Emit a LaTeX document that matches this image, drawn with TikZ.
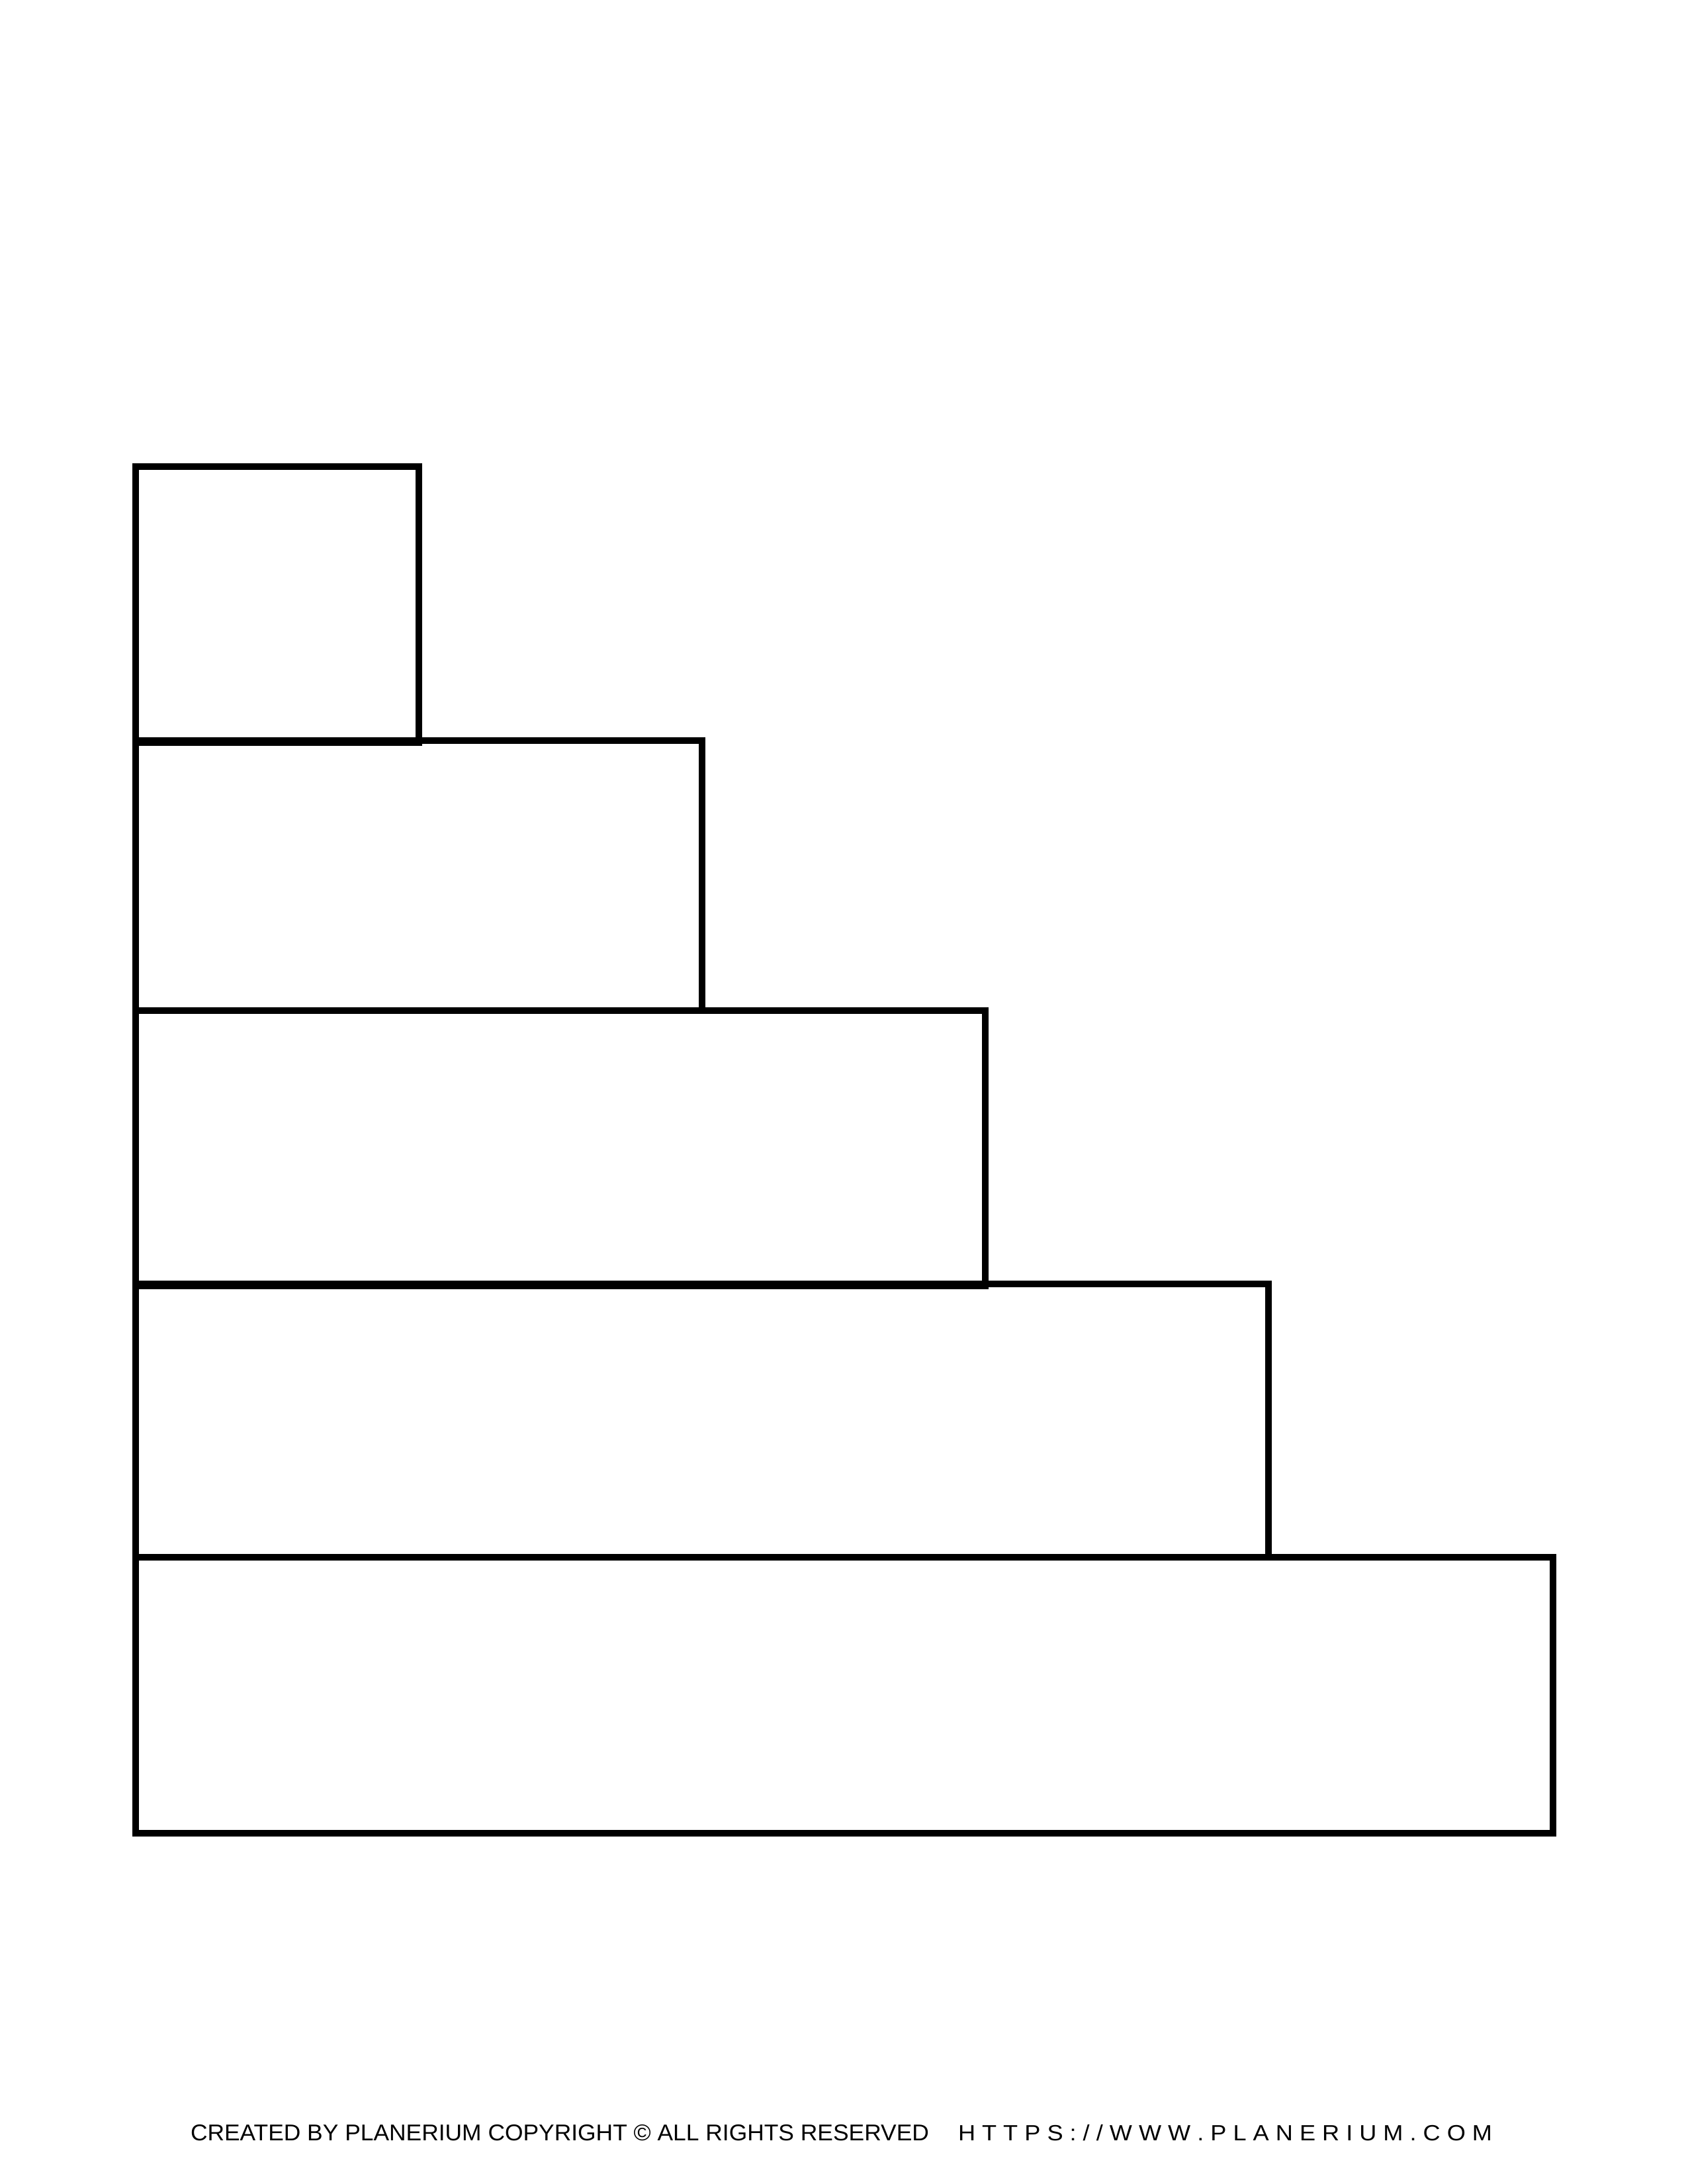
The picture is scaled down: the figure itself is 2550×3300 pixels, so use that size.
\documentclass[tikz,border=0pt]{standalone}
\usepackage{fontspec}
\setmainfont{Liberation Sans}
\begin{document}
\begin{tikzpicture}[x=0.24088pt,y=-0.24088pt,
  stepbox/.style={draw=black,line width=2.45pt,line join=miter,fill=none},
  footer/.style={anchor=base west,inner sep=0pt,outer sep=0pt}]
\useasboundingbox[fill=white] (0,0) rectangle (2550,3300);
\draw[stepbox] (205,705) rectangle (633,1122);
\draw[stepbox] (205,1119) rectangle (1061,1527);
\draw[stepbox] (205,1527) rectangle (1489,1943);
\draw[stepbox] (205,1940) rectangle (1917,2353);
\draw[stepbox] (205,2353) rectangle (2347,2770);
\node[footer] (credit) at (288,3234) {\resizebox{268.8pt}{5.8pt}{CREATED BY PLANERIUM COPYRIGHT © ALL RIGHTS RESERVED}};
\node[footer] (url) at (1448,3234) {\resizebox{194.4pt}{5.8pt}{H\ T\ T\ P\ S\ :\ /\ /\ W\ W\ W\ .\ P\ L\ A\ N\ E\ R\ I\ U\ M\ .\ C\ O\ M}};
\end{tikzpicture}
\end{document}
